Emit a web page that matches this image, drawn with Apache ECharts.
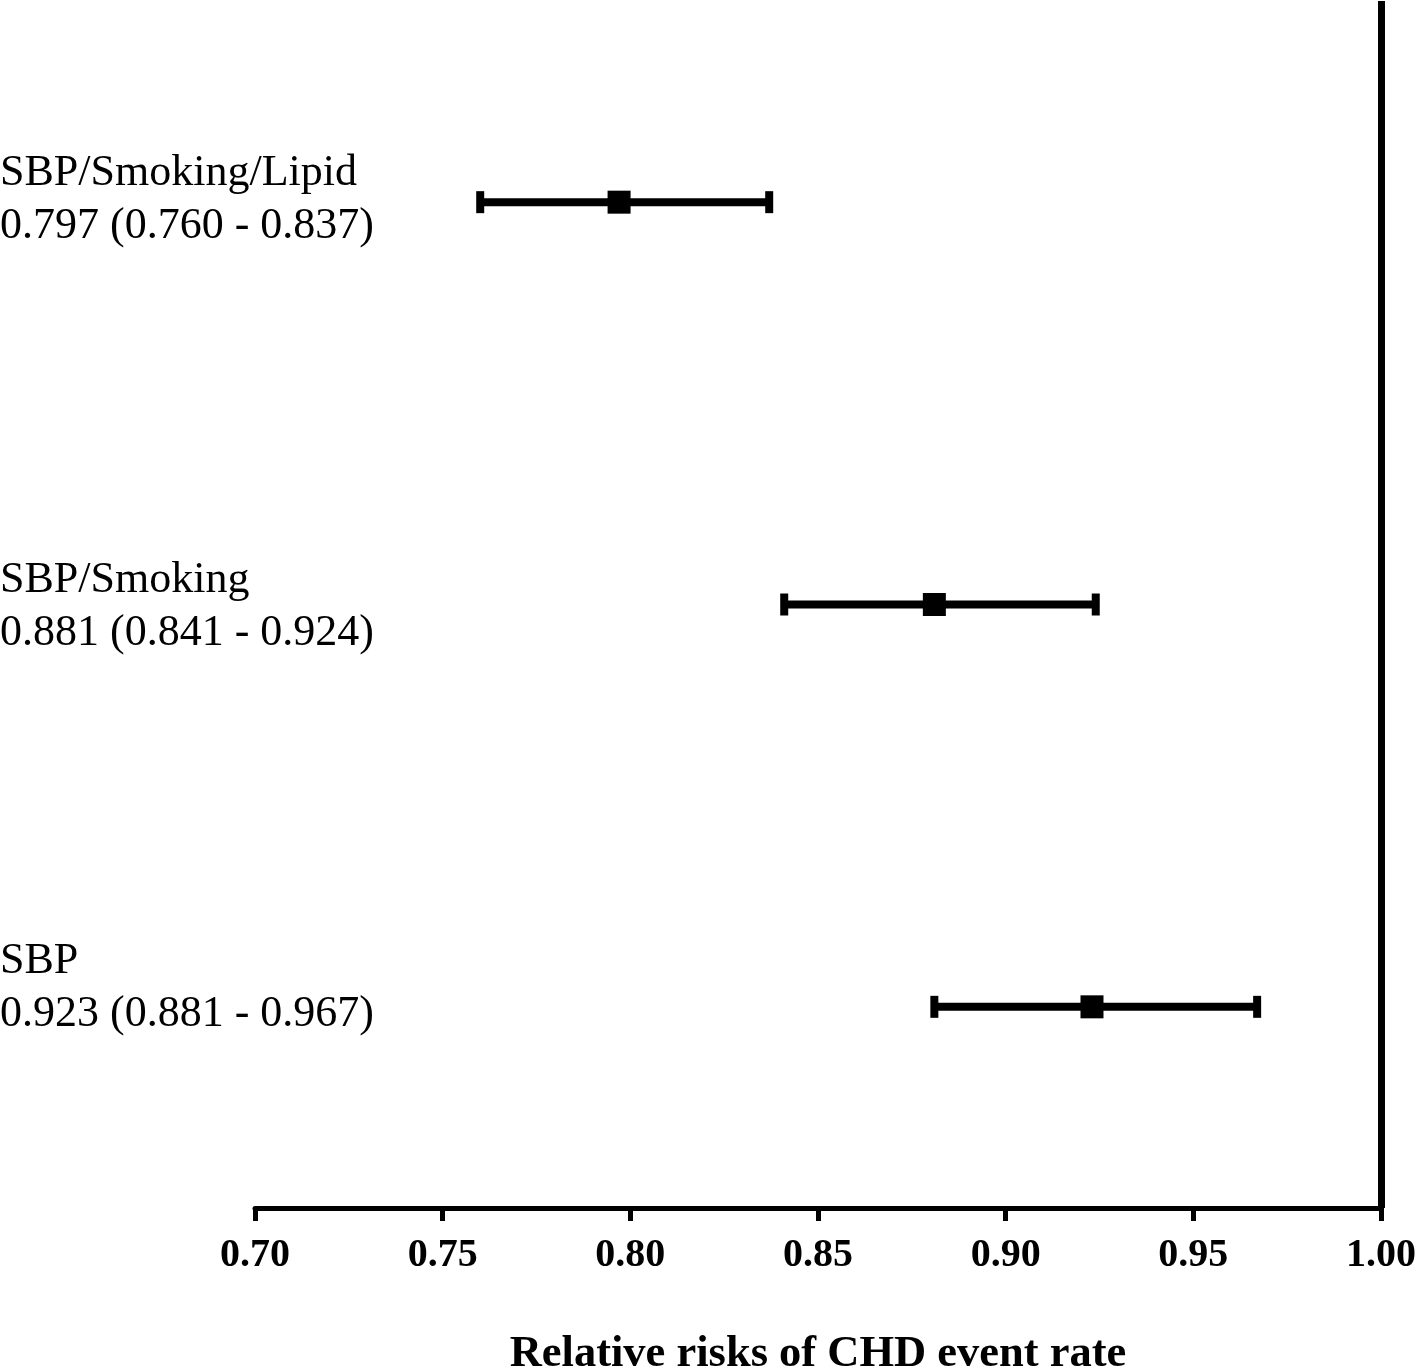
<!DOCTYPE html>
<html>
<head>
<meta charset="utf-8">
<script src="https://cdn.jsdelivr.net/npm/echarts@6/dist/echarts.min.js"></script>
<style>
html,body{margin:0;padding:0;background:#fff;}
#chart{width:1418px;height:1369px;}
</style>
</head>
<body>
<div id="chart"></div>
<script>
// Data
const groups = ['SBP/Smoking/Lipid', 'SBP/Smoking', 'SBP'];
const estimates = [0.797, 0.881, 0.923];
const lowerCI = [0.760, 0.841, 0.881];
const upperCI = [0.837, 0.924, 0.967];
const xTicks = ['0.70', '0.75', '0.80', '0.85', '0.90', '0.95', '1.00'];
const axisTitle = 'Relative risks of CHD event rate';
const refValue = 1.00;

const FONT = 'Liberation Serif';
const labelLift = [2, -2, 19];

const chart = echarts.init(document.getElementById('chart'), null, {renderer: 'canvas'});

const seriesData = groups.map((g, i) => [estimates[i], i, lowerCI[i], upperCI[i]]);
const fmt = v => v.toFixed(3);

const option = {
  animation: false,
  backgroundColor: '#fff',
  grid: { left: 255, right: 37, top: 1, bottom: 161, containLabel: false, outerBoundsMode: 'none' },
  xAxis: {
    type: 'value',
    min: 0.70, max: 1.00, interval: 0.05,
    name: axisTitle,
    nameLocation: 'middle',
    nameGap: 124,
    nameTextStyle: { fontFamily: FONT, fontWeight: 'bold', fontSize: 44.5, color: '#000' },
    axisLine: { show: true, lineStyle: { color: '#000', width: 5 } },
    axisTick: { show: true, length: 13, lineStyle: { color: '#000', width: 5 } },
    axisLabel: {
      margin: 28, fontFamily: FONT, fontWeight: 'bold', fontSize: 40, color: '#000',
      formatter: v => xTicks.find(t => Math.abs(parseFloat(t) - v) < 1e-6) || ''
    },
    splitLine: { show: false }
  },
  yAxis: {
    type: 'category',
    inverse: true,
    data: groups,
    axisLine: { show: false },
    axisTick: { show: false },
    splitLine: { show: false },
    axisLabel: { show: false }
  },
  series: [{
    type: 'custom',
    encode: { x: [0, 2, 3], y: 1 },
    data: seriesData,
    clip: false,
    renderItem: function (params, api) {
      const idx = params.dataIndex;
      const c = api.coord([api.value(0), api.value(1)]);
      const l = api.coord([api.value(2), api.value(1)]);
      const h = api.coord([api.value(3), api.value(1)]);
      const st = { fill: '#000', stroke: null };
      return {
        type: 'group',
        children: [
          { type: 'line', shape: { x1: l[0], y1: l[1], x2: h[0], y2: h[1] }, style: { stroke: '#000', lineWidth: 8 } },
          { type: 'rect', shape: { x: l[0] - 4, y: l[1] - 11, width: 8, height: 22 }, style: st },
          { type: 'rect', shape: { x: h[0] - 4, y: h[1] - 11, width: 8, height: 22 }, style: st },
          { type: 'rect', shape: { x: c[0] - 11.5, y: c[1] - 11.5, width: 23, height: 23 }, style: st },
          { type: 'text', x: 0, y: c[1] - labelLift[idx],
            style: {
              text: groups[idx] + '\n' + fmt(estimates[idx]) + ' (' + fmt(lowerCI[idx]) + ' - ' + fmt(upperCI[idx]) + ')',
              fontFamily: FONT, fontSize: 44, lineHeight: 53, fill: '#000',
              align: 'left', verticalAlign: 'middle'
            } }
        ]
      };
    },
    markLine: {
      silent: true,
      symbol: 'none',
      label: { show: false },
      lineStyle: { color: '#000', width: 7, type: 'solid' },
      data: [{ xAxis: refValue }]
    }
  }]
};
chart.setOption(option);
</script>
</body>
</html>
